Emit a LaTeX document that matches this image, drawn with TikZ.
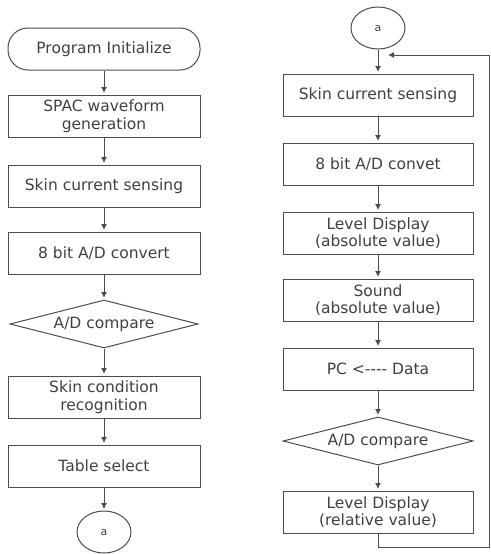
\documentclass[tikz,border=0pt]{standalone}
\usepackage{fontspec}
\setmainfont{DejaVu Sans}
\usetikzlibrary{shapes.geometric,arrows.meta}
\begin{document}
\begin{tikzpicture}[x=1pt,y=-1pt,
  every node/.style={font=\fontsize{15.5}{17.5}\selectfont, text=black!75, inner sep=0pt},
  line/.style={draw=black!70, line width=1pt},
  stepbox/.style={line, rectangle, minimum width=192pt, minimum height=42pt, align=center},
  termbox/.style={line, rectangle, rounded corners=20pt, minimum width=192pt, minimum height=42pt},
  decbox/.style={line, diamond, shape aspect=3.9, minimum width=188pt, minimum height=48pt},
  conn/.style={line, ellipse, minimum width=54pt, minimum height=42pt, font=\fontsize{11}{13}\selectfont},
  arr/.style={line, -{Latex[length=6pt,width=6pt]}, shorten >=1.5pt}
]
\useasboundingbox (0,0) rectangle (490,554);
% left column
\node[termbox] (init) at (104,49) {Program Initialize};
\node[stepbox] (spac) at (104,116) {SPAC waveform\\generation};
\node[stepbox] (sense1) at (104,186) {Skin current sensing};
\node[stepbox] (ad1) at (104,253) {8 bit A/D convert};
\node[decbox] (cmp1) at (104,324) {A/D compare};
\node[stepbox] (recog) at (104,397) {Skin condition\\recognition};
\node[stepbox] (table) at (104,466) {Table select};
\node[conn] (aout) at (104,532) {a};
\draw[arr] (init) -- (spac);
\draw[arr] (spac) -- (sense1);
\draw[arr] (sense1) -- (ad1);
\draw[arr] (ad1) -- (cmp1);
\draw[arr] (cmp1) -- (recog);
\draw[arr] (recog) -- (table);
\draw[arr] (table) -- (aout);
% right column
\node[conn] (ain) at (378,28) {a};
\node[stepbox, minimum width=190pt] (sense2) at (378,95) {Skin current sensing};
\node[stepbox, minimum width=190pt] (ad2) at (378,164) {8 bit A/D convet};
\node[stepbox, minimum width=190pt] (lvl1) at (378,233) {Level Display\\(absolute value)};
\node[stepbox, minimum width=190pt] (sound) at (378,300) {Sound\\(absolute value)};
\node[stepbox, minimum width=190pt] (pc) at (378,369) {PC <\kern0pt-\kern0pt-\kern0pt-\kern0pt- Data};
\node[decbox, minimum width=190pt] (cmp2) at (378,441) {A/D compare};
\node[stepbox, minimum width=190pt] (lvl2) at (378,512) {Level Display\\(relative value)};
\draw[arr] (ain) -- (sense2);
\draw[arr] (sense2) -- (ad2);
\draw[arr] (ad2) -- (lvl1);
\draw[arr] (lvl1) -- (sound);
\draw[arr] (sound) -- (pc);
\draw[arr] (pc) -- (cmp2);
\draw[arr] (cmp2) -- (lvl2);
\coordinate (fbend) at (388,55);
\draw[line, -{Latex[length=6pt,width=6pt]}] (lvl2.south) -- ++(0,14) -| (489,55) -- (fbend);
\end{tikzpicture}
\end{document}
